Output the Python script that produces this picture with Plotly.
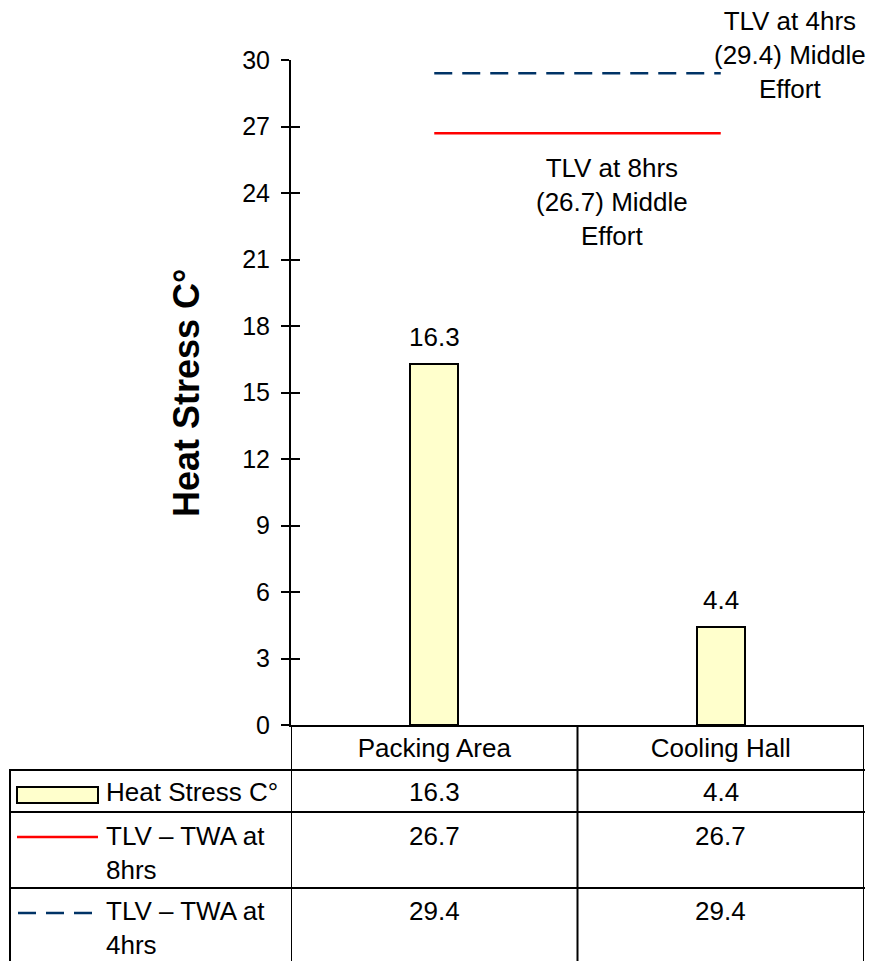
import plotly.graph_objects as go

# ---------------- data ----------------
categories = ["Packing Area", "Cooling Hall"]
heat_stress = [16.3, 4.4]
tlv_8hrs = [26.7, 26.7]
tlv_4hrs = [29.4, 29.4]
series_labels = ["Heat Stress C°", "TLV – TWA at<br>8hrs", "TLV – TWA at<br>4hrs"]
table_rows = [heat_stress, tlv_8hrs, tlv_4hrs]
y_ticks = [0, 3, 6, 9, 12, 15, 18, 21, 24, 27, 30]
y_title = "Heat Stress C°"
note_8hrs = "TLV at 8hrs<br>(26.7) Middle<br>Effort"
note_4hrs = "TLV at 4hrs<br>(29.4) Middle<br>Effort"

# ---------------- layout helpers ----------------
W, H = 870, 961
FONT = "Arial, Liberation Sans, sans-serif"
BAR_FILL = "#FFFFCC"
RED = "#FF0000"
NAVY = "#003366"


def px(p):
    return p / W


def py(p):
    return (H - p) / H


fig = go.Figure()

fig.add_trace(go.Bar(
    x=categories, y=heat_stress, width=0.168,
    marker=dict(color=BAR_FILL, line=dict(color="black", width=2)),
    name="Heat Stress C°", hoverinfo="x+y"))

fig.add_trace(go.Scatter(
    x=categories, y=tlv_8hrs, mode="lines", yaxis="y2",
    line=dict(color=RED, width=2.5), name="TLV – TWA at 8hrs"))

fig.add_trace(go.Scatter(
    x=categories, y=tlv_4hrs, mode="lines", yaxis="y2",
    line=dict(color=NAVY, width=2.5, dash="18px,10px"), name="TLV – TWA at 4hrs"))

annotations = []
shapes = []

# bar value labels
for c, v in zip(categories, heat_stress):
    annotations.append(dict(x=c, y=v, xref="x", yref="y", text=f"{v}",
                            showarrow=False, yanchor="middle", yshift=27,
                            font=dict(size=26, color="black", family=FONT)))

# TLV notes
annotations.append(dict(x=px(612), y=py(202), xref="paper", yref="paper",
                        text=note_8hrs, showarrow=False, align="center",
                        xanchor="center", yanchor="middle",
                        font=dict(size=26, color="black", family=FONT)))
annotations.append(dict(x=px(790), y=py(55), xref="paper", yref="paper",
                        text=note_4hrs, showarrow=False, align="center",
                        xanchor="center", yanchor="middle",
                        font=dict(size=26, color="black", family=FONT)))

# y-axis title
annotations.append(dict(x=px(187), y=py(393), xref="paper", yref="paper",
                        text=f"<b>{y_title}</b>", showarrow=False, textangle=-90,
                        xanchor="center", yanchor="middle",
                        font=dict(size=36, color="black", family=FONT)))

# ---------------- data table ----------------
row_tops = [770, 812, 888]
row_text_y = [792, 853, 928]
value_y = [792, 836, 911]
LINE = dict(color="black", width=2)

# vertical borders of the category columns (at category boundaries)
for xv in [-0.5, 0.5, 1.5]:
    shapes.append(dict(type="line", xref="x", yref="paper", x0=xv, x1=xv,
                       y0=py(725), y1=py(H + 5), line=LINE))
# left border of the table
shapes.append(dict(type="line", xref="paper", yref="paper", x0=px(10), x1=px(10),
                   y0=py(769), y1=py(H + 5), line=LINE))
# horizontal row borders
for t in row_tops:
    shapes.append(dict(type="line", xref="paper", yref="paper", x0=px(9), x1=px(865),
                       y0=py(t), y1=py(t), line=LINE))

# row labels and values
for i, (lab, vals) in enumerate(zip(series_labels, table_rows)):
    annotations.append(dict(x=px(104), y=py(row_text_y[i]), xref="paper", yref="paper",
                            text=lab, showarrow=False, xanchor="left", yanchor="middle",
                            align="left", font=dict(size=26, color="black", family=FONT)))
    for c, v in zip(categories, vals):
        annotations.append(dict(x=c, y=py(value_y[i]), xref="x", yref="paper",
                                text=f"{v}", showarrow=False, xanchor="center",
                                yanchor="middle",
                                font=dict(size=26, color="black", family=FONT)))

# legend keys inside table
shapes.append(dict(type="rect", xref="paper", yref="paper", x0=px(17), x1=px(98),
                   y0=py(803), y1=py(787), fillcolor=BAR_FILL, line=LINE))
shapes.append(dict(type="line", xref="paper", yref="paper", x0=px(17), x1=px(98),
                   y0=py(837), y1=py(837), line=dict(color=RED, width=2.5)))
shapes.append(dict(type="line", xref="paper", yref="paper", x0=px(18), x1=px(98),
                   y0=py(913), y1=py(913),
                   line=dict(color=NAVY, width=2.5, dash="18px,10px")))

fig.update_layout(
    template="none",
    width=W, height=H, autosize=False,
    margin=dict(l=0, r=0, t=0, b=0, pad=0),
    paper_bgcolor="white", plot_bgcolor="white",
    showlegend=False, bargap=0,
    font=dict(family=FONT, color="black", size=26),
    xaxis=dict(domain=[px(291), px(864)], range=[-0.5, 1.5], type="category",
               automargin=False,
               showline=True, linecolor="black", linewidth=2, ticks="",
               showgrid=False, zeroline=False, ticklabelstandoff=-1,
               tickfont=dict(size=26, family=FONT, color="black")),
    yaxis=dict(domain=[py(725), py(60)], range=[0, 30], tickvals=y_ticks,
               automargin=False,
               showline=True, linecolor="black", linewidth=2,
               ticks="outside", ticklen=8, tickwidth=2, tickcolor="black",
               showgrid=False, zeroline=False, ticklabelstandoff=6,
               tickfont=dict(size=25, family=FONT, color="black")),
    yaxis2=dict(overlaying="y", side="left", range=[0, 30], tickvals=y_ticks,
                automargin=False,
                ticks="inside", ticklen=9, tickwidth=2, tickcolor="black",
                showticklabels=False, showline=False, showgrid=False, zeroline=False),
    annotations=annotations,
    shapes=shapes,
)

fig.write_html("out.html")
